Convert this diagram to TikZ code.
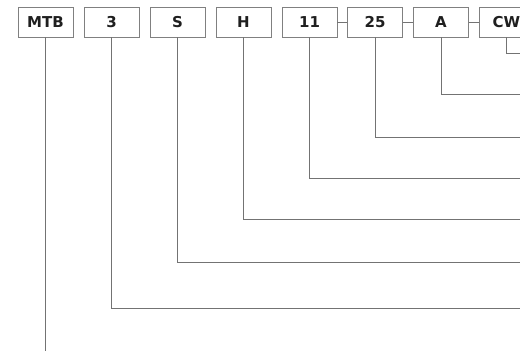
\documentclass[tikz,border=0pt]{standalone}
\usepackage{fontspec}
\setmainfont{DejaVu Sans}
\def\BoxY{22}
\def\EdgeX{530}

\begin{document}
\begin{tikzpicture}[x=1pt,y=-1pt,
  codebox/.style={draw=black!50, line width=0.8pt, minimum width=55pt,
    minimum height=30pt, inner sep=0pt, text=black!88,
    font=\bfseries\fontsize{15}{15}\selectfont},
  lead/.style={draw=black!55, line width=0.8pt}]
  \useasboundingbox (0,0) rectangle (520,351);
  \clip (0,0) rectangle (520,351);
  % --- Casillas del codigo ---
  \foreach \n/\x/\t in {%
    mtb/45.5/MTB, size/111.5/3, ser/177.5/S, typ/243.5/H,
    shaft/309.5/11, bore/375/25, opt/441/A, rot/506.5/CW}
  {
    \node[codebox] (\n) at (\x,\BoxY) {\t};
  }
  % --- Uniones cortas ---
  \draw[lead] (shaft.east) -- (bore.west);
  \draw[lead] (bore.east) -- (opt.west);
  \draw[lead] (opt.east) -- (rot.west);
  % --- Lineas de llamada ---
  \coordinate (end-mtb) at (45.5,360);
  \draw[lead] (mtb.south) -- (end-mtb);
  \foreach \n/\y in {size/308, ser/262, typ/219, shaft/178, bore/137, opt/94, rot/53}
  {
    \coordinate (end-\n) at (\EdgeX,\y);
    \draw[lead] (\n.south) |- (end-\n);
  }
\end{tikzpicture}
\end{document}
